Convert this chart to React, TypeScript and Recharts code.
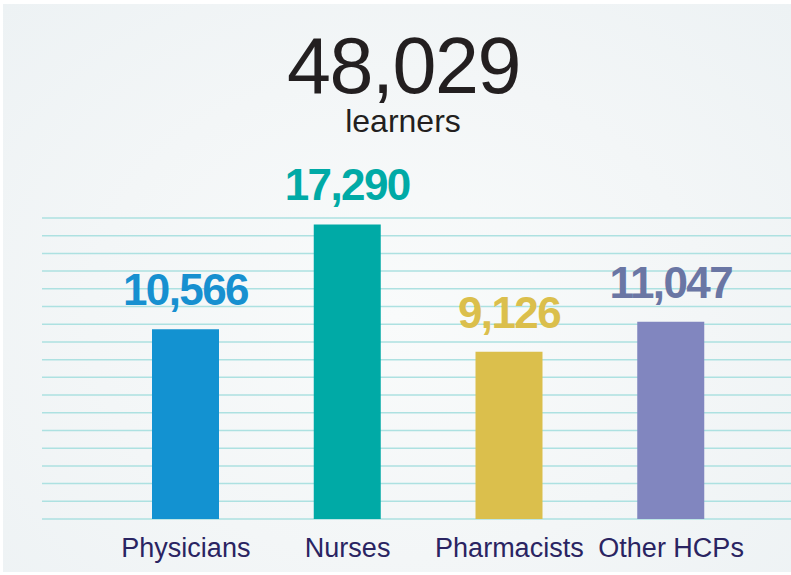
import { BarChart, Bar, XAxis, YAxis, CartesianGrid, Cell, LabelList, Rectangle } from "recharts";

const categories = ["Physicians", "Nurses", "Pharmacists", "Other HCPs"];
const learners = [10566, 17290, 9126, 11047];
const barColors = ["#1392d1", "#00aaa6", "#dbbf4c", "#8186bf"];
const labelColors = ["#1790d0", "#00aaa6", "#dbbf4c", "#6a76a4"];
const totalLearners = 48029;
const totalCaption = "learners";

const W = 791;
const H = 575;
const MARGIN = { top: 218, right: 0, left: 42, bottom: 16 };
const XAXIS_H = 40;
const PLOT_BOTTOM = H - MARGIN.bottom - XAXIS_H;
const GRID_LINES = 18;

const data = categories.map((name, i) => ({ name, learners: learners[i] }));

const fmt = (n: number) => n.toLocaleString("en-US");

// bars run down to the bottom grid line (the infographic's baseline sits below zero)
function BarShape(props: any) {
  const { x, y, width, fill } = props;
  return <Rectangle x={x} y={y} width={width} height={PLOT_BOTTOM - y} fill={fill} />;
}

function ValueLabel(props: any) {
  const { x, y, width, value, index } = props;
  return (
    <text
      x={Number(x) + Number(width) / 2}
      y={Number(y) - 24}
      textAnchor="middle"
      fill={labelColors[index]}
      fontFamily="'Liberation Sans', Arial, sans-serif"
      fontWeight="bold"
      fontSize={44}
      letterSpacing={-1.6}
    >
      {fmt(Number(value))}
    </text>
  );
}

function CategoryTick(props: any) {
  const { x, y, payload } = props;
  return (
    <text
      x={x}
      y={y}
      dy={38}
      textAnchor="middle"
      fill="#2a2462"
      fontFamily="'Liberation Sans', Arial, sans-serif"
      fontSize={27}
    >
      {payload.value}
    </text>
  );
}

export default function App() {
  return (
    <div style={{ position: "absolute", left: 0, top: 0, width: W, height: H, background: "#ffffff" }}>
      <div
        style={{
          position: "absolute",
          left: 3,
          top: 4,
          width: W - 3,
          height: 568,
          background: "radial-gradient(ellipse at 50% 55%, #f9fbfb 0%, #f3f6f7 55%, #edf2f4 100%)",
        }}
      />
      <div style={{ position: "absolute", left: 0, top: 0 }}>
        <BarChart width={W} height={H} data={data} margin={MARGIN}>
          <CartesianGrid
            vertical={false}
            stroke="#ade1e1"
            strokeWidth={1.5}
            horizontalCoordinatesGenerator={({ offset }: any) =>
              Array.from({ length: GRID_LINES }, (_, i) => offset.top + (i * offset.height) / (GRID_LINES - 1))
            }
          />
          <XAxis
            dataKey="name"
            axisLine={false}
            tickLine={false}
            tickSize={0}
            tickMargin={0}
            height={XAXIS_H}
            padding={{ left: 63, right: 39 }}
            tick={<CategoryTick />}
            interval={0}
          />
          <YAxis hide type="number" domain={[-1600, 17700]} allowDataOverflow />
          <Bar dataKey="learners" barSize={67} isAnimationActive={false} shape={<BarShape />}>
            {data.map((d, i) => (
              <Cell key={d.name} fill={barColors[i]} />
            ))}
            <LabelList dataKey="learners" content={<ValueLabel />} />
          </Bar>
        </BarChart>
      </div>
      <svg width={W} height={H} style={{ position: "absolute", left: 0, top: 0, pointerEvents: "none" }}>
        <text
          x={403.5}
          y={92.5}
          textAnchor="middle"
          fill="#231f20"
          fontFamily="'Liberation Sans', Arial, sans-serif"
          fontSize={79}
          letterSpacing={-1.4}
        >
          {fmt(totalLearners)}
        </text>
        <text
          x={403}
          y={131.5}
          textAnchor="middle"
          fill="#231f20"
          fontFamily="'Liberation Sans', Arial, sans-serif"
          fontSize={32}
        >
          {totalCaption}
        </text>
      </svg>
    </div>
  );
}
